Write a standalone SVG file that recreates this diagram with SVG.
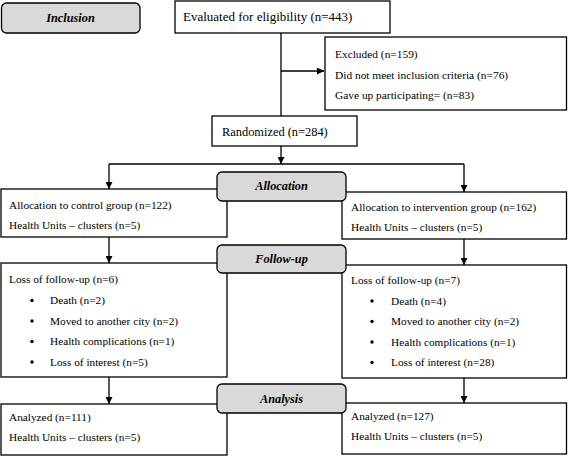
<svg xmlns="http://www.w3.org/2000/svg" width="568" height="456" viewBox="0 0 568 456">
<defs>
<style>
.box{fill:#fff;stroke:#000;stroke-width:1.3}
.lbl{fill:#d9d9d9;stroke:#000;stroke-width:1.3}
text{font-family:'Liberation Serif','Times New Roman',serif;fill:#000}
.t{font-size:11.3px}
.t13{font-size:13px}
.t12{font-size:12.4px}
.tx{font-size:11.4px}
.h{font-size:12.3px;font-weight:bold;font-style:italic;text-anchor:middle}
.ln{fill:none;stroke:#000;stroke-width:1.3}
.b{fill:#000}
</style>
<marker id="ah" viewBox="0 0 10 10" refX="10" refY="5" markerWidth="7" markerHeight="7" markerUnits="userSpaceOnUse" orient="auto">
<path d="M0,0 L10,5 L0,10 z" fill="#000"/>
</marker>
</defs>
<g id="connectors">
<line class="ln" x1="281" y1="33" x2="281" y2="116"/>
<line class="ln" x1="281" y1="71" x2="324" y2="71" marker-end="url(#ah)"/>
<line class="ln" x1="281" y1="146" x2="281" y2="164" marker-end="url(#ah)"/>
<line class="ln" x1="109" y1="164" x2="464" y2="164"/>
<line class="ln" x1="109" y1="164" x2="109" y2="189" marker-end="url(#ah)"/>
<line class="ln" x1="464" y1="164" x2="464" y2="192" marker-end="url(#ah)"/>
<line class="ln" x1="109" y1="237" x2="109" y2="263" marker-end="url(#ah)"/>
<line class="ln" x1="464" y1="239" x2="464" y2="265" marker-end="url(#ah)"/>
<line class="ln" x1="109" y1="377" x2="109" y2="404" marker-end="url(#ah)"/>
<line class="ln" x1="464" y1="378" x2="464" y2="403" marker-end="url(#ah)"/>
</g>
<g id="inclusion">
<rect class="lbl" x="1.5" y="3" width="138.5" height="30" rx="5"/>
<text class="h" x="70.5" y="22">Inclusion</text>
</g>
<g id="evaluated">
<rect class="box" x="175" y="1" width="215" height="32"/>
<text class="t13" x="183" y="21">Evaluated for eligibility (n=443)</text>
</g>
<g id="excluded">
<rect class="box" x="325" y="37" width="241.5" height="73"/>
<text class="tx" x="335" y="58">Excluded (n=159)</text>
<text class="tx" x="335" y="79">Did not meet inclusion criteria (n=76)</text>
<text class="tx" x="335" y="99">Gave up participating= (n=83)</text>
</g>
<g id="randomized">
<rect class="box" x="212" y="116" width="145" height="30"/>
<text class="t12" x="222" y="136">Randomized (n=284)</text>
</g>
<g id="alloc-control">
<rect class="box" x="1" y="189" width="226" height="48"/>
<text class="t" x="9" y="209">Allocation to control group (n=122)</text>
<text class="t" x="9" y="229">Health Units – clusters (n=5)</text>
</g>
<g id="alloc-intervention">
<rect class="box" x="342" y="192" width="224.5" height="47"/>
<text class="t" x="351" y="211">Allocation to intervention group (n=162)</text>
<text class="t" x="351" y="231">Health Units – clusters (n=5)</text>
</g>
<g id="followup-control">
<rect class="box" x="1" y="263" width="226" height="114"/>
<text class="t" x="9" y="283">Loss of follow-up (n=6)</text>
<circle class="b" cx="32" cy="300.5" r="1.7"/>
<text class="t" x="50" y="304">Death (n=2)</text>
<circle class="b" cx="32" cy="321" r="1.7"/>
<text class="t" x="50" y="324.5">Moved to another city (n=2)</text>
<circle class="b" cx="32" cy="341.5" r="1.7"/>
<text class="t" x="50" y="345">Health complications (n=1)</text>
<circle class="b" cx="32" cy="362" r="1.7"/>
<text class="t" x="50" y="365.5">Loss of interest (n=5)</text>
</g>
<g id="followup-intervention">
<rect class="box" x="342" y="265" width="224.5" height="113"/>
<text class="t" x="351" y="284">Loss of follow-up (n=7)</text>
<circle class="b" cx="372" cy="301" r="1.7"/>
<text class="t" x="391" y="304.5">Death (n=4)</text>
<circle class="b" cx="372" cy="321.5" r="1.7"/>
<text class="t" x="391" y="325">Moved to another city (n=2)</text>
<circle class="b" cx="372" cy="342" r="1.7"/>
<text class="t" x="391" y="345.5">Health complications (n=1)</text>
<circle class="b" cx="372" cy="362.5" r="1.7"/>
<text class="t" x="391" y="366">Loss of interest (n=28)</text>
</g>
<g id="analysis-control">
<rect class="box" x="1" y="404" width="226" height="51"/>
<text class="t" x="9" y="421">Analyzed (n=111)</text>
<text class="t" x="9" y="441">Health Units – clusters (n=5)</text>
</g>
<g id="analysis-intervention">
<rect class="box" x="342" y="403" width="224.5" height="51"/>
<text class="t" x="351" y="420">Analyzed (n=127)</text>
<text class="t" x="351" y="440">Health Units – clusters (n=5)</text>
</g>
<g id="allocation">
<rect class="lbl" x="217" y="172" width="129" height="29" rx="5"/>
<text class="h" x="281.5" y="190">Allocation</text>
</g>
<g id="follow-up">
<rect class="lbl" x="217" y="245" width="129" height="28" rx="5"/>
<text class="h" x="281.5" y="263">Follow-up</text>
</g>
<g id="analysis">
<rect class="lbl" x="217" y="384" width="129" height="29" rx="5"/>
<text class="h" x="281.5" y="402.5">Analysis</text>
</g>
</svg>
